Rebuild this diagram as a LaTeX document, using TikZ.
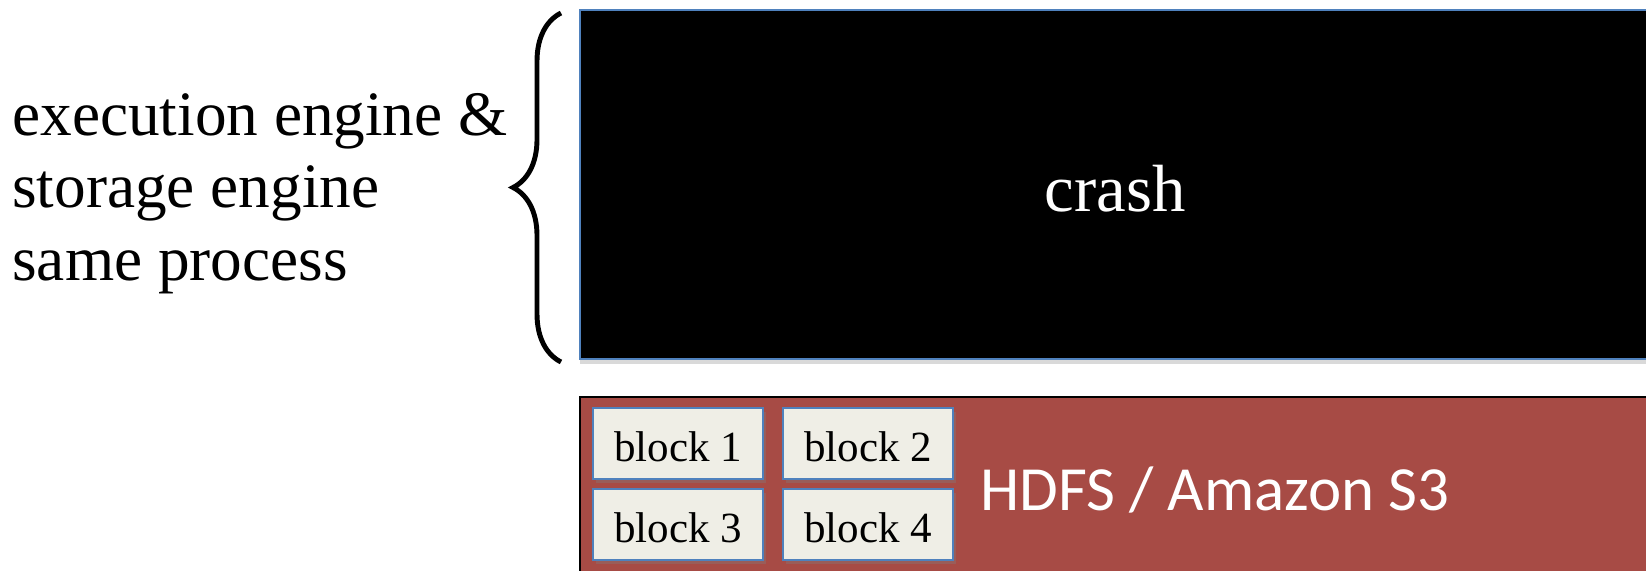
\documentclass[tikz,border=0pt]{standalone}
\usepackage{fontspec}
\setmainfont{Liberation Serif}
\newfontfamily\hdfsfont{Carlito}
\usetikzlibrary{decorations.pathreplacing,shadows}

\definecolor{hdfsred}{RGB}{167,75,69}
\definecolor{blockfill}{RGB}{239,238,230}
\definecolor{edgeblue}{RGB}{79,129,189}

\tikzset{
  block/.style={draw=edgeblue, line width=1.2pt, fill=blockfill,
    minimum width=3.4cm, minimum height=1.42cm, inner sep=0pt,
    text height=20pt, text depth=0pt,
    font=\fontsize{24.5}{28}\selectfont,
    drop shadow={opacity=0.35, shadow xshift=1.5pt, shadow yshift=-2pt}},
  bigtext/.style={inner sep=0pt, anchor=base west, font=\fontsize{36}{41}\selectfont}
}

\begin{document}
\begin{tikzpicture}[x=0.02cm,y=-0.02cm]
    \clip (0,0) rectangle (1646,571);
    % engine process
    \draw[edgeblue, line width=1.1pt, fill=black,
      drop shadow={opacity=0.3, shadow xshift=0pt, shadow yshift=-3pt}] (580,10) rectangle (1680,359);
    \node[white, anchor=base, inner sep=0pt, font=\fontsize{38}{44}\selectfont] (crash) at (1115,211) {crash};
    \foreach \i/\t in {1/execution engine \&, 2/storage engine, 3/same process} {
        \node[bigtext] (line\i) at (12,135+72.5*\i-72.5) {\t};
    }
    \draw[line width=2.8pt, decorate, decoration={brace, amplitude=0.96cm}] (561,362) -- (561,13);
    % storage layer
    \draw[black, line width=0.8pt, fill=hdfsred] (580,397) rectangle (1680,600);
    \foreach \n/\x/\y in {1/678/443.5, 2/868/443.5, 3/678/524.5, 4/868/524.5} {
        \node[block] (block\n) at (\x,\y) {block \n};
    }
    \node[bigtext, white, font=\hdfsfont\fontsize{35.8}{43}\selectfont] (hdfs) at (980,510) {HDFS / Amazon S3};
\end{tikzpicture}
\end{document}
